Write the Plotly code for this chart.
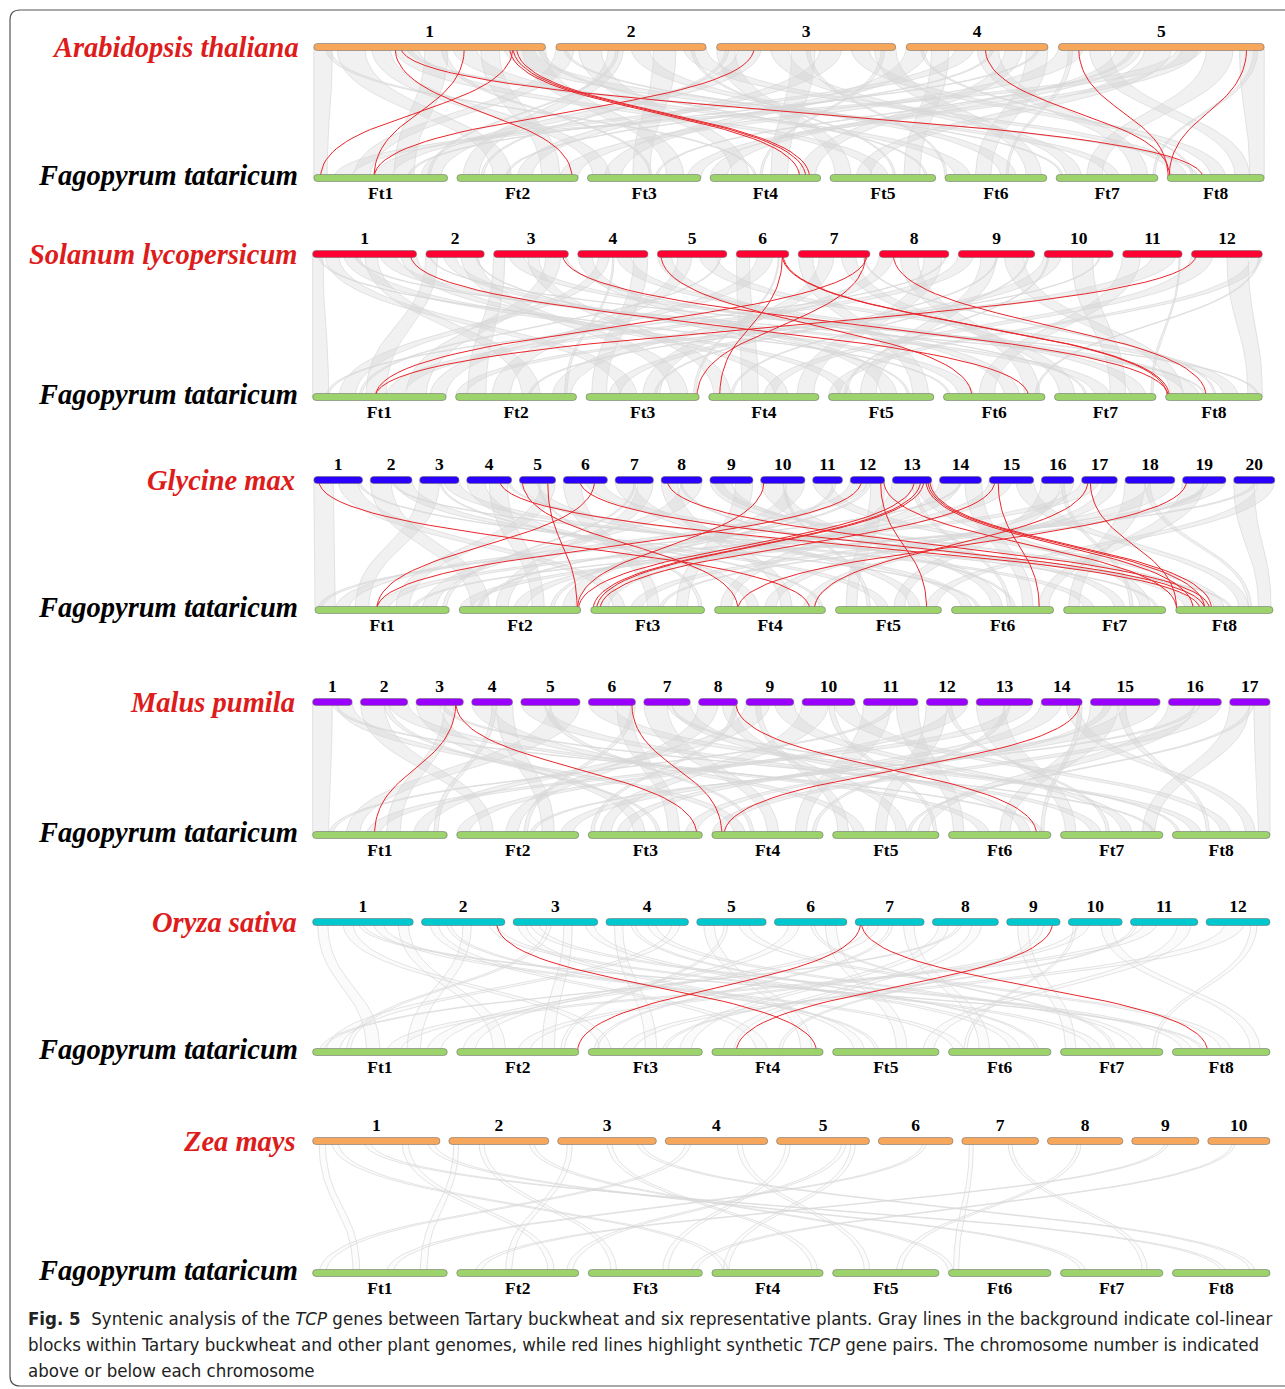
import numpy as np
import plotly.graph_objects as go

# ---------------------------------------------------------------- data
# Chromosome lengths (Mb)
FT_LABELS = ["Ft1", "Ft2", "Ft3", "Ft4", "Ft5", "Ft6", "Ft7", "Ft8"]
FT_LEN = [69.0, 62.5, 58.5, 57.0, 54.5, 52.5, 52.5, 50.0]

AT_LEN = [30.4, 19.7, 23.5, 18.6, 27.0]
SL_LEN = [98.5, 55.3, 70.8, 66.5, 65.9, 49.8, 68.0, 65.9, 72.5, 65.5, 56.3, 67.1]
GM_LEN = [56.8, 48.6, 45.8, 52.4, 42.2, 51.4, 44.6, 47.8, 50.2, 51.6,
          34.8, 40.1, 45.9, 49.0, 51.8, 37.9, 41.6, 58.0, 50.6, 47.9]
MP_LEN = [31.4, 37.5, 37.6, 32.4, 47.0, 37.4, 36.9, 31.0, 38.0, 42.0,
          43.4, 33.0, 45.0, 32.5, 55.3, 42.0, 32.0]
OS_LEN = [43.3, 35.9, 36.4, 35.5, 29.9, 31.2, 29.7, 28.4, 23.0, 23.2, 29.0, 27.5]
ZM_LEN = [307.0, 241.0, 238.0, 247.0, 224.0, 180.0, 185.0, 182.0, 162.0, 150.0]

SPECIES = ["Arabidopsis thaliana", "Solanum lycopersicum", "Glycine max",
           "Malus pumila", "Oryza sativa", "Zea mays"]

# Syntenic TCP gene pairs: (species chr, relative position, Ft chr, relative position)
AT_TCP = [(1, 0.35, 2, 0.95), (1, 0.375, 8, 0.37), (1, 0.65, 1, 0.45),
          (1, 0.86, 1, 0.05), (1, 0.845, 4, 0.81), (1, 0.86, 4, 0.865),
          (1, 0.875, 4, 0.90), (3, 0.21, 1, 0.45), (4, 0.556, 8, 0.03),
          (5, 0.098, 8, 0.01), (5, 0.915, 8, 0.02)]
SL_TCP = [(1, 0.94, 6, 0.84), (3, 0.92, 8, 0.03), (5, 0.05, 6, 0.28),
          (6, 0.88, 4, 0.10), (6, 0.87, 8, 0.02), (6, 0.89, 8, 0.04),
          (7, 0.96, 1, 0.47), (7, 0.94, 3, 0.98), (8, 0.20, 8, 0.42),
          (12, 0.07, 1, 0.47)]
GM_TCP = [(1, 0.10, 4, 0.86), (4, 0.73, 8, 0.25), (5, 0.08, 4, 0.21),
          (5, 0.78, 2, 0.97), (6, 0.71, 1, 0.46), (6, 0.37, 8, 0.30),
          (8, 0.15, 8, 0.35), (10, 0.08, 2, 0.97), (12, 0.33, 1, 0.46),
          (12, 0.88, 5, 0.86), (12, 0.97, 8, 0.01), (13, 0.56, 2, 0.98),
          (13, 0.72, 3, 0.02), (13, 0.80, 3, 0.05), (13, 0.85, 8, 0.18),
          (13, 0.90, 8, 0.30), (13, 0.95, 8, 0.37), (15, 0.13, 3, 0.08),
          (15, 0.20, 6, 0.86), (17, 0.18, 4, 0.90), (17, 0.24, 8, 0.01),
          (19, 0.10, 4, 0.21)]
MP_TCP = [(3, 0.84, 1, 0.46), (3, 0.84, 3, 0.95), (6, 0.92, 4, 0.09),
          (8, 0.95, 6, 0.86), (14, 0.95, 4, 0.11)]
OS_TCP = [(2, 0.90, 4, 0.94), (7, 0.08, 2, 0.99), (7, 0.09, 8, 0.36),
          (9, 0.86, 4, 0.22)]
ZM_TCP = []

# Collinear blocks: (species chr, start, end, Ft chr, start, end), relative positions
AT_BLOCKS = [
    (1, 0.00, 0.08, 1, 0.00, 0.10), (1, 0.10, 0.22, 2, 0.30, 0.45),
    (1, 0.25, 0.33, 3, 0.05, 0.20), (1, 0.35, 0.45, 5, 0.40, 0.55),
    (1, 0.48, 0.58, 1, 0.60, 0.75), (1, 0.60, 0.70, 6, 0.10, 0.25),
    (1, 0.72, 0.80, 2, 0.70, 0.85), (1, 0.82, 0.95, 7, 0.50, 0.62),
    (1, 0.90, 1.00, 3, 0.70, 0.85), (2, 0.00, 0.12, 1, 0.30, 0.42),
    (2, 0.15, 0.30, 4, 0.20, 0.35), (2, 0.35, 0.45, 2, 0.05, 0.18),
    (2, 0.50, 0.62, 6, 0.55, 0.70), (2, 0.65, 0.80, 3, 0.40, 0.55),
    (2, 0.85, 1.00, 8, 0.05, 0.20), (3, 0.00, 0.10, 5, 0.05, 0.20),
    (3, 0.12, 0.25, 1, 0.80, 0.95), (3, 0.30, 0.40, 7, 0.10, 0.25),
    (3, 0.42, 0.55, 4, 0.55, 0.70), (3, 0.58, 0.70, 2, 0.50, 0.62),
    (3, 0.75, 0.85, 8, 0.45, 0.60), (3, 0.88, 1.00, 6, 0.80, 0.95),
    (4, 0.00, 0.15, 3, 0.15, 0.30), (4, 0.18, 0.30, 5, 0.70, 0.85),
    (4, 0.35, 0.48, 1, 0.45, 0.58), (4, 0.50, 0.65, 7, 0.75, 0.90),
    (4, 0.70, 0.82, 4, 0.80, 0.95), (4, 0.85, 1.00, 6, 0.30, 0.45),
    (5, 0.00, 0.12, 2, 0.85, 1.00), (5, 0.15, 0.25, 8, 0.70, 0.85),
    (5, 0.28, 0.40, 4, 0.00, 0.15), (5, 0.42, 0.55, 5, 0.25, 0.38),
    (5, 0.58, 0.70, 1, 0.15, 0.28), (5, 0.72, 0.85, 7, 0.30, 0.45),
    (5, 0.88, 1.00, 8, 0.85, 1.00), (5, 0.60, 0.68, 3, 0.88, 1.00),
    (1, 0.05, 0.07, 4, 0.40, 0.42), (1, 0.40, 0.42, 8, 0.30, 0.32),
    (1, 0.55, 0.57, 3, 0.55, 0.57), (1, 0.97, 0.99, 5, 0.90, 0.92),
    (2, 0.05, 0.07, 7, 0.05, 0.07), (2, 0.40, 0.42, 1, 0.85, 0.87),
    (2, 0.90, 0.92, 5, 0.60, 0.62), (3, 0.05, 0.07, 2, 0.20, 0.22),
    (3, 0.50, 0.52, 6, 0.00, 0.02), (3, 0.92, 0.94, 4, 0.45, 0.47),
    (4, 0.10, 0.12, 8, 0.25, 0.27), (4, 0.60, 0.62, 2, 0.40, 0.42),
    (4, 0.92, 0.94, 1, 0.70, 0.72), (5, 0.05, 0.07, 6, 0.60, 0.62),
    (5, 0.35, 0.37, 3, 0.60, 0.62), (5, 0.95, 0.97, 7, 0.95, 0.97),
]
SL_BLOCKS = [
    (1, 0.00, 0.10, 1, 0.00, 0.12), (1, 0.12, 0.25, 3, 0.30, 0.45),
    (1, 0.30, 0.45, 5, 0.10, 0.22), (1, 0.50, 0.62, 2, 0.55, 0.70),
    (1, 0.65, 0.80, 7, 0.40, 0.55), (1, 0.85, 1.00, 4, 0.60, 0.72),
    (2, 0.00, 0.20, 1, 0.40, 0.55), (2, 0.30, 0.50, 6, 0.15, 0.30),
    (2, 0.60, 0.90, 3, 0.75, 0.90), (3, 0.00, 0.15, 2, 0.10, 0.25),
    (3, 0.20, 0.40, 8, 0.20, 0.35), (3, 0.45, 0.60, 4, 0.05, 0.20),
    (3, 0.70, 0.90, 1, 0.70, 0.85), (4, 0.00, 0.20, 5, 0.50, 0.65),
    (4, 0.30, 0.45, 1, 0.20, 0.32), (4, 0.55, 0.75, 7, 0.75, 0.90),
    (4, 0.80, 1.00, 3, 0.05, 0.18), (5, 0.00, 0.20, 6, 0.60, 0.75),
    (5, 0.30, 0.50, 2, 0.30, 0.45), (5, 0.60, 0.85, 8, 0.60, 0.75),
    (6, 0.00, 0.25, 4, 0.30, 0.45), (6, 0.40, 0.70, 1, 0.88, 1.00),
    (7, 0.00, 0.20, 5, 0.80, 0.95), (7, 0.30, 0.50, 3, 0.50, 0.65),
    (7, 0.60, 0.80, 7, 0.05, 0.20), (8, 0.00, 0.20, 2, 0.80, 0.95),
    (8, 0.30, 0.55, 6, 0.80, 0.95), (8, 0.65, 0.90, 4, 0.80, 0.95),
    (9, 0.00, 0.20, 1, 0.55, 0.68), (9, 0.30, 0.50, 5, 0.30, 0.45),
    (9, 0.60, 0.85, 8, 0.05, 0.18), (10, 0.00, 0.25, 3, 0.20, 0.30),
    (10, 0.40, 0.70, 7, 0.55, 0.70), (11, 0.00, 0.30, 6, 0.35, 0.50),
    (11, 0.50, 0.90, 2, 0.00, 0.08), (12, 0.00, 0.30, 4, 0.50, 0.60),
    (12, 0.50, 0.80, 8, 0.85, 1.00), (12, 0.85, 1.00, 5, 0.00, 0.10),
    (1, 0.05, 0.07, 6, 0.05, 0.07), (1, 0.40, 0.42, 8, 0.40, 0.42),
    (2, 0.85, 0.87, 5, 0.75, 0.77), (3, 0.95, 0.97, 7, 0.30, 0.32),
    (4, 0.50, 0.52, 2, 0.90, 0.92), (5, 0.90, 0.92, 1, 0.35, 0.37),
    (6, 0.80, 0.82, 3, 0.95, 0.97), (7, 0.90, 0.92, 8, 0.50, 0.52),
    (8, 0.95, 0.97, 1, 0.10, 0.12), (9, 0.90, 0.92, 4, 0.20, 0.22),
    (10, 0.80, 0.82, 2, 0.60, 0.62), (11, 0.95, 0.97, 7, 0.95, 0.97),
    (12, 0.95, 0.97, 6, 0.90, 0.92), (10, 0.05, 0.07, 5, 0.15, 0.17),
    (9, 0.50, 0.52, 3, 0.60, 0.62), (2, 0.05, 0.07, 8, 0.95, 0.97),
]
GM_BLOCKS = [
    (1, 0.0, 0.4, 1, 0.00, 0.15), (1, 0.5, 0.9, 3, 0.20, 0.30),
    (2, 0.0, 0.5, 2, 0.10, 0.25), (2, 0.6, 1.0, 5, 0.40, 0.50),
    (3, 0.0, 0.5, 1, 0.30, 0.40), (3, 0.6, 1.0, 7, 0.20, 0.30),
    (4, 0.0, 0.4, 4, 0.30, 0.40), (4, 0.5, 0.9, 2, 0.60, 0.70),
    (5, 0.0, 0.5, 6, 0.10, 0.20), (5, 0.6, 1.0, 1, 0.60, 0.70),
    (6, 0.0, 0.4, 3, 0.50, 0.60), (6, 0.5, 0.9, 8, 0.10, 0.20),
    (7, 0.0, 0.5, 5, 0.70, 0.80), (7, 0.6, 1.0, 2, 0.30, 0.40),
    (8, 0.0, 0.4, 4, 0.60, 0.70), (8, 0.5, 1.0, 1, 0.80, 0.90),
    (9, 0.0, 0.5, 7, 0.50, 0.60), (9, 0.6, 1.0, 3, 0.75, 0.85),
    (10, 0.0, 0.5, 6, 0.40, 0.50), (10, 0.6, 1.0, 2, 0.85, 0.95),
    (11, 0.0, 0.6, 8, 0.40, 0.50), (12, 0.0, 0.5, 1, 0.15, 0.25),
    (12, 0.6, 1.0, 5, 0.10, 0.20), (13, 0.0, 0.5, 4, 0.05, 0.15),
    (13, 0.6, 1.0, 7, 0.75, 0.85), (14, 0.0, 0.5, 3, 0.05, 0.15),
    (14, 0.6, 1.0, 6, 0.70, 0.80), (15, 0.0, 0.5, 2, 0.45, 0.55),
    (15, 0.6, 1.0, 8, 0.65, 0.75), (16, 0.0, 0.6, 5, 0.55, 0.65),
    (17, 0.0, 0.5, 1, 0.45, 0.55), (17, 0.6, 1.0, 4, 0.80, 0.90),
    (18, 0.0, 0.4, 7, 0.05, 0.15), (18, 0.5, 1.0, 3, 0.35, 0.45),
    (19, 0.0, 0.5, 6, 0.85, 0.95), (19, 0.6, 1.0, 2, 0.00, 0.10),
    (20, 0.0, 0.5, 8, 0.85, 0.98), (20, 0.6, 1.0, 5, 0.85, 0.95),
    (9, 0.1, 0.3, 8, 0.25, 0.35), (16, 0.7, 1.0, 4, 0.45, 0.55),
    (1, 0.90, 0.95, 6, 0.25, 0.28), (2, 0.50, 0.55, 8, 0.55, 0.58),
    (3, 0.50, 0.55, 4, 0.95, 0.98), (4, 0.90, 0.95, 7, 0.90, 0.93),
    (5, 0.50, 0.55, 3, 0.95, 0.98), (7, 0.50, 0.55, 1, 0.95, 0.98),
    (8, 0.45, 0.50, 6, 0.60, 0.63), (10, 0.50, 0.55, 5, 0.30, 0.33),
    (11, 0.70, 0.80, 2, 0.75, 0.78), (13, 0.50, 0.60, 6, 0.55, 0.58),
    (14, 0.50, 0.55, 1, 0.02, 0.05), (16, 0.60, 0.70, 7, 0.65, 0.68),
    (18, 0.40, 0.50, 8, 0.75, 0.78), (19, 0.50, 0.60, 3, 0.60, 0.63),
    (20, 0.50, 0.60, 1, 0.72, 0.75), (12, 0.50, 0.60, 2, 0.15, 0.18),
]
MP_BLOCKS = [
    (1, 0.0, 0.5, 1, 0.00, 0.12), (1, 0.6, 1.0, 4, 0.20, 0.30),
    (2, 0.0, 0.5, 2, 0.20, 0.30), (2, 0.6, 1.0, 6, 0.30, 0.40),
    (3, 0.0, 0.5, 3, 0.40, 0.50), (3, 0.6, 0.8, 1, 0.55, 0.65),
    (4, 0.0, 0.5, 5, 0.20, 0.30), (4, 0.6, 1.0, 2, 0.70, 0.80),
    (5, 0.0, 0.4, 7, 0.30, 0.40), (5, 0.5, 1.0, 1, 0.25, 0.35),
    (6, 0.0, 0.5, 8, 0.20, 0.30), (6, 0.6, 0.9, 3, 0.70, 0.80),
    (7, 0.0, 0.5, 4, 0.50, 0.60), (7, 0.6, 1.0, 6, 0.70, 0.80),
    (8, 0.0, 0.5, 2, 0.40, 0.50), (8, 0.6, 0.9, 5, 0.60, 0.70),
    (9, 0.0, 0.5, 1, 0.75, 0.85), (9, 0.6, 1.0, 7, 0.60, 0.70),
    (10, 0.0, 0.5, 3, 0.10, 0.20), (10, 0.6, 1.0, 8, 0.50, 0.60),
    (11, 0.0, 0.5, 4, 0.75, 0.85), (11, 0.6, 1.0, 6, 0.05, 0.15),
    (12, 0.0, 0.5, 5, 0.40, 0.50), (12, 0.6, 1.0, 2, 0.00, 0.10),
    (13, 0.0, 0.5, 7, 0.05, 0.15), (13, 0.6, 1.0, 1, 0.40, 0.50),
    (14, 0.0, 0.5, 3, 0.25, 0.35), (14, 0.6, 0.9, 8, 0.75, 0.85),
    (15, 0.0, 0.4, 6, 0.50, 0.60), (15, 0.5, 1.0, 2, 0.85, 0.95),
    (16, 0.0, 0.5, 5, 0.80, 0.90), (16, 0.6, 1.0, 4, 0.00, 0.10),
    (17, 0.0, 0.5, 7, 0.80, 0.92), (17, 0.6, 1.0, 8, 0.88, 1.00),
    (15, 0.2, 0.3, 3, 0.85, 0.95), (9, 0.2, 0.3, 5, 0.05, 0.15),
    (1, 0.50, 0.60, 6, 0.90, 0.93), (2, 0.50, 0.60, 3, 0.60, 0.63),
    (3, 0.50, 0.60, 7, 0.90, 0.93), (4, 0.50, 0.60, 1, 0.90, 0.93),
    (5, 0.40, 0.50, 4, 0.35, 0.38), (6, 0.90, 1.00, 2, 0.55, 0.58),
    (7, 0.50, 0.60, 8, 0.05, 0.08), (8, 0.90, 1.00, 3, 0.02, 0.05),
    (10, 0.50, 0.60, 5, 0.95, 0.98), (11, 0.50, 0.60, 1, 0.12, 0.15),
    (12, 0.50, 0.60, 7, 0.45, 0.48), (13, 0.50, 0.60, 4, 0.90, 0.93),
    (14, 0.90, 1.00, 6, 0.90, 0.93), (15, 0.40, 0.50, 8, 0.35, 0.38),
    (16, 0.50, 0.60, 2, 0.60, 0.63), (17, 0.50, 0.60, 5, 0.70, 0.73),
]
OS_BLOCKS = [
    (1, 0.05, 0.15, 1, 0.40, 0.50), (1, 0.30, 0.40, 3, 0.10, 0.20),
    (1, 0.60, 0.70, 6, 0.05, 0.15), (1, 0.85, 0.95, 2, 0.30, 0.40),
    (2, 0.10, 0.20, 4, 0.40, 0.50), (2, 0.50, 0.60, 1, 0.70, 0.80),
    (2, 0.80, 0.90, 7, 0.30, 0.40), (3, 0.05, 0.15, 5, 0.20, 0.30),
    (3, 0.20, 0.30, 8, 0.10, 0.20), (3, 0.60, 0.70, 2, 0.70, 0.80),
    (3, 0.85, 0.95, 6, 0.60, 0.70), (4, 0.10, 0.20, 3, 0.50, 0.60),
    (4, 0.50, 0.60, 7, 0.70, 0.80), (4, 0.80, 0.90, 1, 0.10, 0.20),
    (5, 0.10, 0.25, 4, 0.80, 0.90), (5, 0.60, 0.75, 8, 0.50, 0.60),
    (6, 0.20, 0.35, 2, 0.05, 0.15), (6, 0.70, 0.85, 5, 0.60, 0.70),
    (7, 0.20, 0.35, 1, 0.85, 0.95), (7, 0.70, 0.85, 6, 0.30, 0.40),
    (8, 0.10, 0.25, 3, 0.80, 0.90), (8, 0.60, 0.75, 4, 0.10, 0.20),
    (9, 0.20, 0.40, 7, 0.05, 0.15), (10, 0.20, 0.40, 2, 0.50, 0.60),
    (10, 0.60, 0.80, 8, 0.80, 0.90), (11, 0.20, 0.40, 1, 0.55, 0.65),
    (11, 0.70, 0.90, 5, 0.85, 0.95), (12, 0.30, 0.60, 3, 0.30, 0.40),
    (1, 0.45, 0.50, 8, 0.30, 0.33), (2, 0.30, 0.35, 5, 0.40, 0.43),
    (3, 0.40, 0.45, 1, 0.25, 0.28), (4, 0.30, 0.35, 6, 0.85, 0.88),
    (5, 0.40, 0.45, 2, 0.85, 0.88), (6, 0.50, 0.55, 7, 0.50, 0.53),
    (7, 0.50, 0.55, 3, 0.05, 0.08), (8, 0.40, 0.45, 1, 0.05, 0.08),
    (9, 0.60, 0.70, 4, 0.60, 0.63), (10, 0.10, 0.15, 6, 0.15, 0.18),
    (12, 0.70, 0.80, 7, 0.90, 0.93), (11, 0.05, 0.10, 3, 0.65, 0.68),
]
ZM_BLOCKS = [
    (1, 0.05, 0.10, 1, 0.30, 0.35), (1, 0.15, 0.20, 4, 0.10, 0.15),
    (1, 0.40, 0.45, 8, 0.50, 0.55), (1, 0.70, 0.75, 2, 0.75, 0.80),
    (1, 0.90, 0.95, 7, 0.20, 0.25), (2, 0.05, 0.10, 1, 0.80, 0.85),
    (2, 0.30, 0.35, 3, 0.20, 0.25), (2, 0.80, 0.85, 6, 0.00, 0.05),
    (3, 0.10, 0.15, 2, 0.40, 0.45), (3, 0.50, 0.55, 4, 0.90, 0.95),
    (3, 0.80, 0.85, 8, 0.80, 0.85), (4, 0.20, 0.25, 1, 0.05, 0.10),
    (4, 0.70, 0.75, 5, 0.30, 0.35), (5, 0.10, 0.15, 3, 0.65, 0.70),
    (5, 0.70, 0.75, 2, 0.90, 0.95), (5, 0.80, 0.85, 4, 0.10, 0.15),
    (6, 0.60, 0.65, 1, 0.55, 0.60), (7, 0.10, 0.15, 6, 0.05, 0.10),
    (7, 0.60, 0.65, 7, 0.80, 0.85), (8, 0.40, 0.45, 5, 0.60, 0.65),
    (9, 0.50, 0.55, 2, 0.15, 0.20), (10, 0.40, 0.45, 3, 0.90, 0.95),
]

# ---------------------------------------------------------------- layout / style
W, H = 1285, 1389
BAR_H = 7.0
FT_COLOR = "#9dd36b"
RED = "#e8262b"
SERIF = "Liberation Serif, Times New Roman, serif"

PANELS = [
    dict(lengths=AT_LEN, pairs=AT_TCP, blocks=AT_BLOCKS, color="#f6a75c",
         top_y=47, bot_y=178, top_x=(313.8, 1264.2), top_gap=10.5,
         bot_x=(313.8, 1264.2), bot_gap=9.3, name_x=301, fill=0.26),
    dict(lengths=SL_LEN, pairs=SL_TCP, blocks=SL_BLOCKS, color="#ff0033",
         top_y=254, bot_y=397, top_x=(312.6, 1262.3), top_gap=9.4,
         bot_x=(312.6, 1262.3), bot_gap=9.5, name_x=299, fill=0.26),
    dict(lengths=GM_LEN, pairs=GM_TCP, blocks=GM_BLOCKS, color="#2b00ff",
         top_y=480, bot_y=610, top_x=(313.8, 1274.8), top_gap=7.7,
         bot_x=(315.0, 1273.0), bot_gap=10.0, name_x=297, fill=0.26),
    dict(lengths=MP_LEN, pairs=MP_TCP, blocks=MP_BLOCKS, color="#9900ff",
         top_y=702, bot_y=835, top_x=(312.6, 1270.0), top_gap=8.3,
         bot_x=(312.6, 1270.0), bot_gap=9.5, name_x=297, fill=0.26),
    dict(lengths=OS_LEN, pairs=OS_TCP, blocks=OS_BLOCKS, color="#00c8cf",
         top_y=922, bot_y=1052, top_x=(312.6, 1270.0), top_gap=8.2,
         bot_x=(312.6, 1270.0), bot_gap=9.5, name_x=299, fill=0.08),
    dict(lengths=ZM_LEN, pairs=ZM_TCP, blocks=ZM_BLOCKS, color="#f6a75c",
         top_y=1141, bot_y=1273, top_x=(312.6, 1270.0), top_gap=8.8,
         bot_x=(312.6, 1270.0), bot_gap=9.5, name_x=298, fill=0.06),
]


def row_extents(lengths, x0, x1, gap):
    scale = (x1 - x0 - gap * (len(lengths) - 1)) / sum(lengths)
    out, x = [], x0
    for L in lengths:
        out.append((x, x + L * scale))
        x += L * scale + gap
    return out


def locate(extents, chrom, rel):
    a, b = extents[chrom - 1]
    return a + rel * (b - a)


def link_curve(xa, ya, xb, yb, n=40):
    t = np.linspace(0, 1, n)
    ym = (ya + yb) / 2
    x = (1 - t) ** 3 * xa + 3 * (1 - t) ** 2 * t * xa + 3 * (1 - t) * t ** 2 * xb + t ** 3 * xb
    y = (1 - t) ** 3 * ya + 3 * (1 - t) ** 2 * t * ym + 3 * (1 - t) * t ** 2 * ym + t ** 3 * yb
    return x, y


def capsule(x0, x1, yc, h):
    r = min(h, (x1 - x0) / 2)
    return (f"M {x0 + r},{yc - h} L {x1 - r},{yc - h} Q {x1},{yc - h} {x1},{yc} "
            f"Q {x1},{yc + h} {x1 - r},{yc + h} L {x0 + r},{yc + h} "
            f"Q {x0},{yc + h} {x0},{yc} Q {x0},{yc - h} {x0 + r},{yc - h} Z")


fig = go.Figure()
shapes, annotations = [], []

for p, species in zip(PANELS, SPECIES):
    top = row_extents(p["lengths"], *p["top_x"], p["top_gap"])
    bot = row_extents(FT_LEN, *p["bot_x"], p["bot_gap"])
    ya, yb = p["top_y"], p["bot_y"]

    # collinear blocks: faint ribbons with hairline edges
    gx, gy = [], []
    for (ca, sa, ea, cb, sb, eb) in p["blocks"]:
        x1, y1 = link_curve(locate(top, ca, sa), ya, locate(bot, cb, sb), yb)
        x2, y2 = link_curve(locate(top, ca, ea), ya, locate(bot, cb, eb), yb)
        fig.add_trace(go.Scatter(
            x=np.concatenate([x1, x2[::-1]]), y=np.concatenate([y1, y2[::-1]]),
            mode="none", fill="toself",
            fillcolor=f"rgba(200,200,200,{p['fill']})",
            hoverinfo="skip", showlegend=False))
        gx += list(x1) + [None] + list(x2) + [None]
        gy += list(y1) + [None] + list(y2) + [None]
    fig.add_trace(go.Scatter(x=gx, y=gy, mode="lines",
                             line=dict(color="rgb(216,216,216)", width=0.7),
                             hoverinfo="skip", showlegend=False))

    # TCP gene pairs
    rx, ry = [], []
    for (ca, pa, cb, pb) in p["pairs"]:
        x, y = link_curve(locate(top, ca, pa), ya, locate(bot, cb, pb), yb)
        rx += list(x) + [None]
        ry += list(y) + [None]
    if rx:
        fig.add_trace(go.Scatter(x=rx, y=ry, mode="lines",
                                 line=dict(color=RED, width=1.0),
                                 hoverinfo="skip", showlegend=False))

    # chromosomes
    for (x0, x1) in top:
        shapes.append(dict(type="path", path=capsule(x0, x1, ya, BAR_H / 2),
                           fillcolor=p["color"], line=dict(color="rgba(110,110,110,0.8)", width=0.7)))
    for (x0, x1) in bot:
        shapes.append(dict(type="path", path=capsule(x0, x1, yb, BAR_H / 2),
                           fillcolor=FT_COLOR, line=dict(color="rgba(110,110,110,0.8)", width=0.7)))

    top_labels = [str(i + 1) for i in range(len(p["lengths"]))]
    fig.add_trace(go.Scatter(
        x=[(a + b) / 2 for a, b in top], y=[ya - 14] * len(top),
        mode="text", text=top_labels,
        textfont=dict(family=SERIF, size=17.5, color="black", weight="bold"),
        hoverinfo="skip", showlegend=False))
    fig.add_trace(go.Scatter(
        x=[(a + b) / 2 for a, b in bot], y=[yb + 17] * len(bot),
        mode="text", text=FT_LABELS,
        textfont=dict(family=SERIF, size=17.5, color="black", weight="bold"),
        hoverinfo="skip", showlegend=False))

    annotations.append(dict(x=p["name_x"], y=ya, text=species, showarrow=False,
                            xanchor="right", yanchor="middle",
                            font=dict(family=SERIF, size=28.5, color="#dd1c1c",
                                      weight="bold", style="italic")))
    annotations.append(dict(x=300, y=yb - 3, text="Fagopyrum tataricum", showarrow=False,
                            xanchor="right", yanchor="middle",
                            font=dict(family=SERIF, size=28.5, color="black",
                                      weight="bold", style="italic")))

# frame
shapes.append(dict(type="path",
                   path="M 1300,10 L 20,10 Q 10,10 10,20 L 10,1376 Q 10,1386 20,1386 L 1300,1386",
                   line=dict(color="#555555", width=1.2), layer="below"))

# caption
CAPTION = [
    "<b>Fig. 5</b>  Syntenic analysis of the <i>TCP</i> genes between Tartary buckwheat and six "
    "representative plants. Gray lines in the background indicate col-linear",
    "blocks within Tartary buckwheat and other plant genomes, while red lines highlight synthetic "
    "<i>TCP</i> gene pairs. The chromosome number is indicated",
    "above or below each chromosome",
]
for i, line in enumerate(CAPTION):
    annotations.append(dict(x=26, y=1318 + 26 * i, text=line, showarrow=False,
                            xanchor="left", yanchor="middle",
                            font=dict(family="Liberation Sans Narrow, DejaVu Sans Condensed, Arial Narrow, sans-serif",
                                      size=18.5, color="#222222")))

fig.update_layout(
    width=W, height=H, margin=dict(l=0, r=0, t=0, b=0),
    paper_bgcolor="white", plot_bgcolor="white",
    xaxis=dict(range=[0, W], visible=False, fixedrange=True),
    yaxis=dict(range=[H, 0], visible=False, fixedrange=True),
    shapes=shapes, annotations=annotations,
)

fig.write_html("out.html")
